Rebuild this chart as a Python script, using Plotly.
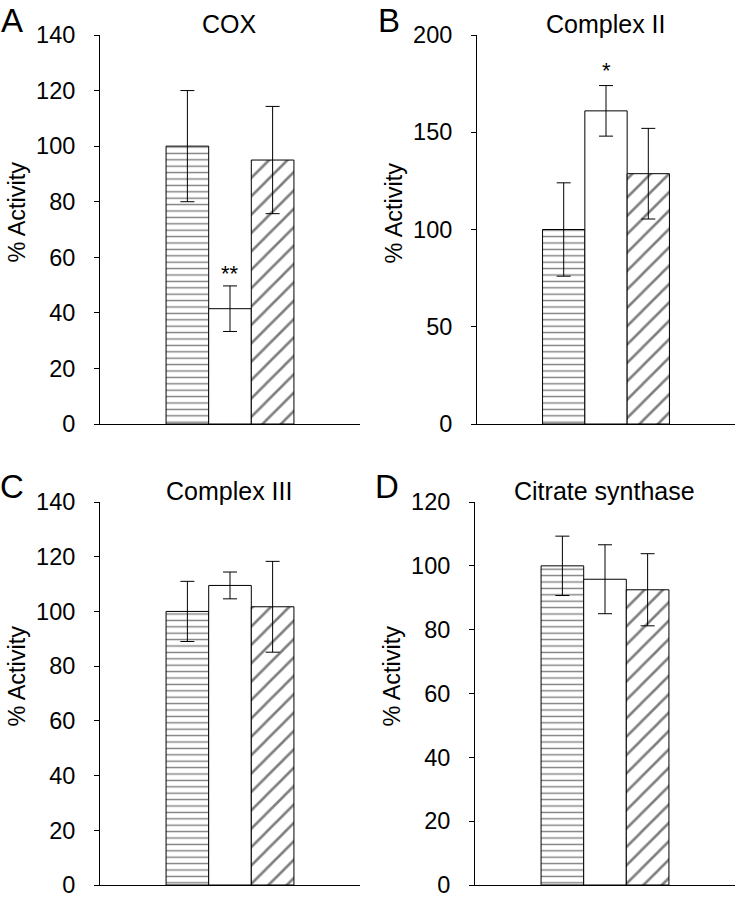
import plotly.graph_objects as go

W, H = 736, 899

# ---- data ----
groups = [0, 1, 2]
patterns = ["-", "", "/"]

titles = ["COX", "Complex II", "Complex III", "Citrate synthase"]
letters = ["A", "B", "C", "D"]

cox_vals = [100, 41.5, 95]
cox_err = [20, 8.2, 19.3]
c2_vals = [100, 161, 128.7]
c2_err = [24, 13, 23.3]
c3_vals = [100, 109.5, 101.7]
c3_err = [11, 4.9, 16.6]
cs_vals = [100, 95.8, 92.5]
cs_err = [9.3, 10.8, 11.3]

yranges = [140, 200, 140, 120]
ydticks = [20, 50, 20, 20]

sig_labels = [["", "**", ""], ["", "*", ""], ["", "", ""], ["", "", ""]]
sig_y = [[None, 54, None], [None, 181.5, None], [None] * 3, [None] * 3]

all_vals = [cox_vals, c2_vals, c3_vals, cs_vals]
all_err = [cox_err, c2_err, c3_err, cs_err]

# ---- layout (pixel boxes: x0, x1, ytop, ybottom) ----
boxes = [(100, 360, 35, 424), (477, 735, 35, 424),
         (100, 360, 502, 885), (475, 735, 502, 885)]
title_y = [24, 24, 491, 491]
letter_top = [0, 0, 466, 466]

FONT = "Arial, 'Liberation Sans', Helvetica, sans-serif"
fig = go.Figure()
annotations = []

for i in range(4):
    ax = "" if i == 0 else str(i + 1)
    fig.add_trace(go.Bar(
        x=groups, y=all_vals[i], width=1.0,
        xaxis="x" + ax, yaxis="y" + ax,
        marker=dict(color="white",
                    line=dict(color="black", width=1),
                    pattern=dict(shape=patterns, fgcolor="black", bgcolor="white",
                                 size=[6.4, 6.4, 13], solidity=[0.22, 0.22, 0.2])),
        error_y=dict(type="data", array=all_err[i], visible=True,
                     color="black", thickness=1, width=7),
        showlegend=False, hoverinfo="skip"))
    x0, x1, yt, yb = boxes[i]
    xd = [x0 / W, x1 / W]
    yd = [1 - yb / H, 1 - yt / H]
    fig.layout["xaxis" + ax] = dict(
        domain=xd, range=[-2.05, 4.05], showline=True, linecolor="black",
        linewidth=1, showticklabels=False, ticks="", showgrid=False,
        zeroline=False, anchor="y" + ax, fixedrange=True, automargin=False)
    fig.layout["yaxis" + ax] = dict(
        domain=yd, range=[0, yranges[i]], dtick=ydticks[i], tick0=0,
        showline=True, linecolor="black", linewidth=1, ticks="outside",
        ticklen=5, tickwidth=1, tickcolor="black", showgrid=False,
        zeroline=False, anchor="x" + ax, ticklabelstandoff=14, automargin=False,
        ticklabeloverflow="allow", fixedrange=True,
        tickfont=dict(size=23.5, color="black", family=FONT))
    xc = (x0 + x1) / 2
    # title
    annotations.append(dict(text=titles[i], xref="paper", yref="paper",
                            x=(xc - 1) / W, y=1 - title_y[i] / H,
                            xanchor="center", yanchor="middle", showarrow=False,
                            font=dict(size=25, color="black", family=FONT)))
    # y-axis title
    annotations.append(dict(text="% Activity", xref="paper", yref="paper",
                            x=(x0 - 84) / W, y=1 - ((yt + yb) / 2 - 17) / H,
                            xanchor="center", yanchor="middle", showarrow=False,
                            textangle=-90,
                            font=dict(size=23.5, color="black", family=FONT)))
    # panel letter
    annotations.append(dict(text=letters[i], xref="paper", yref="paper",
                            x=(x0 - 88) / W, y=1 - letter_top[i] / H,
                            xanchor="center", yanchor="top", showarrow=False,
                            font=dict(size=33, color="black", family=FONT)))
    # significance marks
    for g, lab, sy in zip(groups, sig_labels[i], sig_y[i]):
        if lab:
            annotations.append(dict(text=lab, x=g, y=sy, xref="x" + ax, yref="y" + ax,
                                    xanchor="center", yanchor="middle", showarrow=False,
                                    font=dict(size=22, color="black", family=FONT)))

fig.update_layout(width=W, height=H, margin=dict(l=0, r=0, t=0, b=0, autoexpand=False),
                  paper_bgcolor="white", plot_bgcolor="white",
                  bargap=0, annotations=annotations,
                  font=dict(family=FONT, color="black"))

fig.write_html("out.html", config={"displayModeBar": False, "staticPlot": True},
               post_script="document.body.style.margin='0';document.body.style.padding='0';")
